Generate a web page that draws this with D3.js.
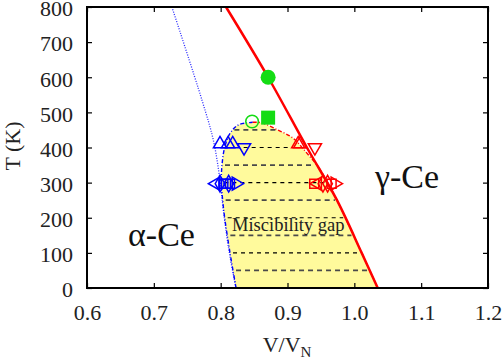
<!DOCTYPE html>
<html><head><meta charset="utf-8">
<script src="https://cdn.jsdelivr.net/npm/d3@7"></script>
<style>html,body{margin:0;padding:0;background:#fff}svg{display:block}</style>
</head><body>
<svg id="c" width="502" height="359"></svg>
<script>
// ---- data ----
const xTicks = [0.6, 0.7, 0.8, 0.9, 1.0, 1.1, 1.2];
const xTickLabels = ["0.6", "0.7", "0.8", "0.9", "1.0", "1.1", "1.2"];
const yTicks = [0, 100, 200, 300, 400, 500, 600, 700, 800];

const redLineV = [0.808, 0.871, 0.929, 0.974, 1.011, 1.035];
const redLineT = [800, 600, 400, 250, 100, 0];

const blueDotV = [0.727, 0.772, 0.789, 0.799, 0.804, 0.813, 0.823];
const blueDotT = [800, 535, 421, 307, 222, 100, 0];

const gapLeftV = [0.823, 0.814, 0.806, 0.803, 0.801, 0.802, 0.806, 0.814, 0.826, 0.839, 0.848];
const gapLeftT = [0, 100, 200, 250, 300, 350, 400, 440, 464, 470, 472];
const gapRightV = [0.862, 0.885, 0.908, 0.929, 0.946, 0.960, 0.974, 1.011, 1.035];
const gapRightT = [470, 450, 427, 384, 345, 300, 250, 100, 0];

const dashT = [50, 100, 150, 200, 250, 300, 350, 400, 450];

const blueUpV = [0.799, 0.811, 0.818];
const blueUpT = [410, 410, 410];
const blueDownV = [0.835];
const blueDownT = [400];
const blueLeftV = [0.793];
const blueDiamondV = [0.799, 0.812];
const blueSquareV = [0.804, 0.808, 0.814];
const blueRightV = [0.823];
const blueClusterT = 297;

const redUpV = [0.916, 0.919];
const redUpT = [410, 410];
const redDownV = [0.941];
const redDownT = [400];
const redSquareV = [0.940, 0.966];
const redLeftV = [0.945];
const redDiamondV = [0.953, 0.960];
const redRightV = [0.971];
const redClusterT = 297;

const greenFilledCircle = {v: 0.871, T: 600};
const greenSquare = {v: 0.871, T: 485};
const greenOpenCircle = {v: 0.847, T: 474};

// ---- layout ----
const W = 502, H = 359;
const m = {l: 87, r: 14, t: 7, b: 71};
const svg = d3.select("#c");
const x = d3.scaleLinear().domain([0.6, 1.2]).range([m.l, W - m.r]);
const y = d3.scaleLinear().domain([0, 800]).range([H - m.b, m.t]);
const font = "'Liberation Serif','Times New Roman',serif";
const RED = "#ff0000", BLUE = "#0000ff", GREEN = "#14dc14";

const g = svg.append("g");

// fill region
const leftPts = gapLeftV.map((v, i) => [x(v), y(gapLeftT[i])]);
const rightPts = gapRightV.map((v, i) => [x(v), y(gapRightT[i])]);
const line = d3.line().curve(d3.curveCatmullRom);
g.append("path").attr("d", line(leftPts.concat(rightPts)) + "Z")
  .attr("fill", "#fffa9c").attr("stroke", "none");

// horizontal dashed tie lines
const lInterp = T => x(d3.scaleLinear().domain(gapLeftT.slice(0, 8)).range(gapLeftV.slice(0, 8))(T));
const rInterp = T => x(d3.scaleLinear().domain(gapRightT).range(gapRightV)(T));
dashT.forEach((T, i) => {
  const gray = (T / 50) % 2 === 1;
  g.append("line").attr("x1", lInterp(T) + 3).attr("x2", rInterp(T) - 2)
    .attr("y1", y(T)).attr("y2", y(T))
    .attr("stroke", gray ? "#4a4a4a" : "#000")
    .attr("stroke-width", gray ? 1.7 : 1.2)
    .attr("stroke-dasharray", gray ? "5,4" : "4,4");
});

// blue dotted line
g.append("path").attr("d", line(blueDotV.map((v, i) => [x(v), y(blueDotT[i])])))
  .attr("fill", "none").attr("stroke", "#2a2aff").attr("stroke-width", 1.3)
  .attr("stroke-dasharray", "1,1.5");

// gap boundaries (dash-dot)
g.append("path").attr("d", line(leftPts))
  .attr("fill", "none").attr("stroke", BLUE).attr("stroke-width", 1.4)
  .attr("stroke-dasharray", "4,2,1,2");
g.append("path").attr("d", line([leftPts[leftPts.length - 1]].concat(rightPts)))
  .attr("fill", "none").attr("stroke", RED).attr("stroke-width", 1.4)
  .attr("stroke-dasharray", "4,2,1,2");

// red solid line
g.append("path").attr("d", line(redLineV.map((v, i) => [x(v), y(redLineT[i])])))
  .attr("fill", "none").attr("stroke", RED).attr("stroke-width", 2.5);

// markers
function marker(type, size, rot, px, py, color, filled) {
  g.append("path").attr("d", d3.symbol().type(type).size(size)())
    .attr("transform", `translate(${px},${py}) rotate(${rot})`)
    .attr("fill", filled ? color : "none").attr("stroke", color)
    .attr("stroke-width", filled ? 0.5 : 1.5);
}
const tri = d3.symbolTriangle, sq = d3.symbolSquare, dia = d3.symbolDiamond;
const TS = 75, SS = 80, DS = 80;
blueUpV.forEach((v, i) => marker(tri, TS, 0, x(v), y(blueUpT[i]), BLUE));
blueDownV.forEach((v, i) => marker(tri, TS, 180, x(v), y(blueDownT[i]), BLUE));
blueLeftV.forEach(v => marker(tri, TS, -90, x(v), y(blueClusterT), BLUE));
blueDiamondV.forEach(v => marker(dia, DS, 0, x(v), y(blueClusterT), BLUE));
blueSquareV.forEach(v => marker(sq, SS, 0, x(v), y(blueClusterT), BLUE));
blueRightV.forEach(v => marker(tri, TS, 90, x(v), y(blueClusterT), BLUE));

redUpV.forEach((v, i) => marker(tri, TS, 0, x(v), y(redUpT[i]), RED));
redDownV.forEach((v, i) => marker(tri, TS, 180, x(v), y(redDownT[i]), RED));
redSquareV.forEach(v => marker(sq, SS, 0, x(v), y(redClusterT), RED));
redLeftV.forEach(v => marker(tri, TS, -90, x(v), y(redClusterT), RED));
redDiamondV.forEach(v => marker(dia, DS, 0, x(v), y(redClusterT), RED));
redRightV.forEach(v => marker(tri, TS, 90, x(v), y(redClusterT), RED));

g.append("circle").attr("cx", x(greenFilledCircle.v)).attr("cy", y(greenFilledCircle.T))
  .attr("r", 7.5).attr("fill", GREEN);
g.append("rect").attr("x", x(greenSquare.v) - 7).attr("y", y(greenSquare.T) - 7)
  .attr("width", 14).attr("height", 14).attr("fill", GREEN);
g.append("circle").attr("cx", x(greenOpenCircle.v)).attr("cy", y(greenOpenCircle.T))
  .attr("r", 6.3).attr("fill", "none").attr("stroke", GREEN).attr("stroke-width", 1.6);

// texts
svg.append("text").attr("x", 128).attr("y", 246).attr("font-family", font)
  .attr("font-size", 34).attr("fill", "#111").text("α-Ce");
svg.append("text").attr("x", 375).attr("y", 188).attr("font-family", font)
  .attr("font-size", 34).attr("fill", "#111").text("γ-Ce");
svg.append("text").attr("x", 232).attr("y", 231).attr("font-family", font)
  .attr("font-size", 18.5).attr("fill", "#222").text("Miscibility gap");

// axes
const tickFont = sel => sel.selectAll("text").attr("font-family", font).attr("font-size", 22).attr("fill", "#222");
const ax = svg.append("g").attr("transform", `translate(0,${H - m.b})`)
  .call(d3.axisBottom(x).tickValues(xTicks).tickFormat((d, i) => xTickLabels[i]).tickSize(-5).tickPadding(16));
ax.call(tickFont);
const axT = svg.append("g").attr("transform", `translate(0,${m.t})`)
  .call(d3.axisTop(x).tickValues(xTicks).tickFormat("").tickSize(-5));
const ay = svg.append("g").attr("transform", `translate(${m.l},0)`)
  .call(d3.axisLeft(y).tickValues(yTicks).tickFormat(d3.format("d")).tickSize(-5).tickPadding(14));
ay.call(tickFont);
ay.selectAll("text").attr("dy", "0.4em");
const ayR = svg.append("g").attr("transform", `translate(${W - m.r},0)`)
  .call(d3.axisRight(y).tickValues(yTicks).tickFormat("").tickSize(-5));
[ax, axT, ay, ayR].forEach(a => {
  a.select(".domain").remove();
  a.selectAll(".tick line").attr("stroke", "#000").attr("stroke-width", 1.2);
});

svg.append("rect").attr("x", m.l).attr("y", m.t).attr("width", W - m.l - m.r)
  .attr("height", H - m.t - m.b).attr("fill", "none").attr("stroke", "#000").attr("stroke-width", 2);

// axis titles
const xl = svg.append("text").attr("x", 287).attr("y", 352).attr("text-anchor", "middle")
  .attr("font-family", font).attr("font-size", 22).attr("fill", "#222");
xl.append("tspan").text("V/V");
xl.append("tspan").attr("font-size", 15).attr("dy", 5).text("N");
svg.append("text").attr("transform", "translate(20,146) rotate(-90)").attr("text-anchor", "middle")
  .attr("font-family", font).attr("font-size", 22).attr("fill", "#222").text("T (K)");
</script>
</body></html>
